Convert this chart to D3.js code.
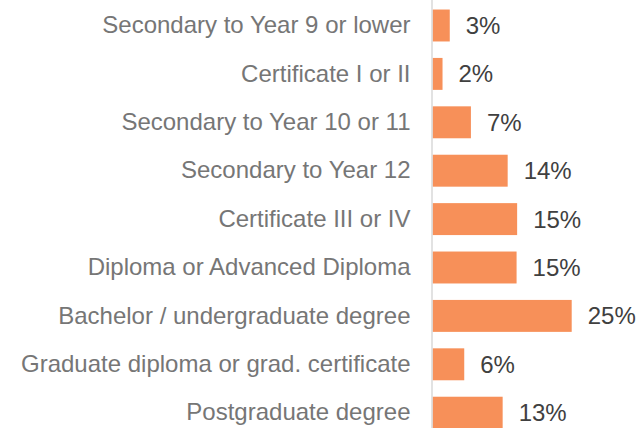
<!DOCTYPE html>
<html>
<head>
<meta charset="utf-8">
<script src="https://cdn.jsdelivr.net/npm/d3@7"></script>
<style>
  body { margin: 0; background: #fff; }
  text { font-family: "Liberation Sans", Arial, sans-serif; }
</style>
</head>
<body>
<div id="chart"></div>
<script>
// Chart data
const categories = [
  "Secondary to Year 9 or lower",
  "Certificate I or II",
  "Secondary to Year 10 or 11",
  "Secondary to Year 12",
  "Certificate III or IV",
  "Diploma or Advanced Diploma",
  "Bachelor / undergraduate degree",
  "Graduate diploma or grad. certificate",
  "Postgraduate degree"
];
const values = [3.1, 1.8, 6.9, 13.5, 15.2, 15.1, 25.0, 5.7, 12.6];
const valueLabels = ["3%", "2%", "7%", "14%", "15%", "15%", "25%", "6%", "13%"];

const width = 636, height = 428;
const axisX = 432.5;

const svg = d3.select("#chart")
  .append("svg")
  .attr("width", width)
  .attr("height", height);

// Scales
const x = d3.scaleLinear().domain([0, 25]).range([0, 139.2]);
const y = d3.scaleBand()
  .domain(categories)
  .range([1.3, 1.3 + 9 * 48.4])
  .paddingInner(0.34)
  .paddingOuter(0.17);

const data = categories.map((c, i) => ({ cat: c, value: values[i], label: valueLabels[i] }));

// Bars
svg.append("g")
  .selectAll("rect")
  .data(data)
  .join("rect")
  .attr("x", axisX)
  .attr("y", d => y(d.cat))
  .attr("width", d => x(d.value))
  .attr("height", y.bandwidth())
  .attr("fill", "#f79059");

// Value labels
svg.append("g")
  .selectAll("text")
  .data(data)
  .join("text")
  .attr("x", d => axisX + x(d.value) + 16)
  .attr("y", d => y(d.cat) + y.bandwidth() / 2)
  .attr("dy", "0.35em")
  .attr("font-size", 24)
  .attr("fill", "#404040")
  .text(d => d.label);

// Category axis
const yAxis = svg.append("g")
  .attr("transform", `translate(${axisX},0)`)
  .call(d3.axisLeft(y).tickSize(0).tickPadding(22));

yAxis.select(".domain").remove();
yAxis.selectAll("text")
  .attr("font-size", 24)
  .attr("font-family", "Liberation Sans, Arial, sans-serif")
  .attr("fill", "#767676");

// Vertical axis line
svg.append("line")
  .attr("x1", axisX - 0.5)
  .attr("x2", axisX - 0.5)
  .attr("y1", 0)
  .attr("y2", height)
  .attr("stroke", "#d9d9d9")
  .attr("stroke-width", 1.5);
</script>
</body>
</html>
